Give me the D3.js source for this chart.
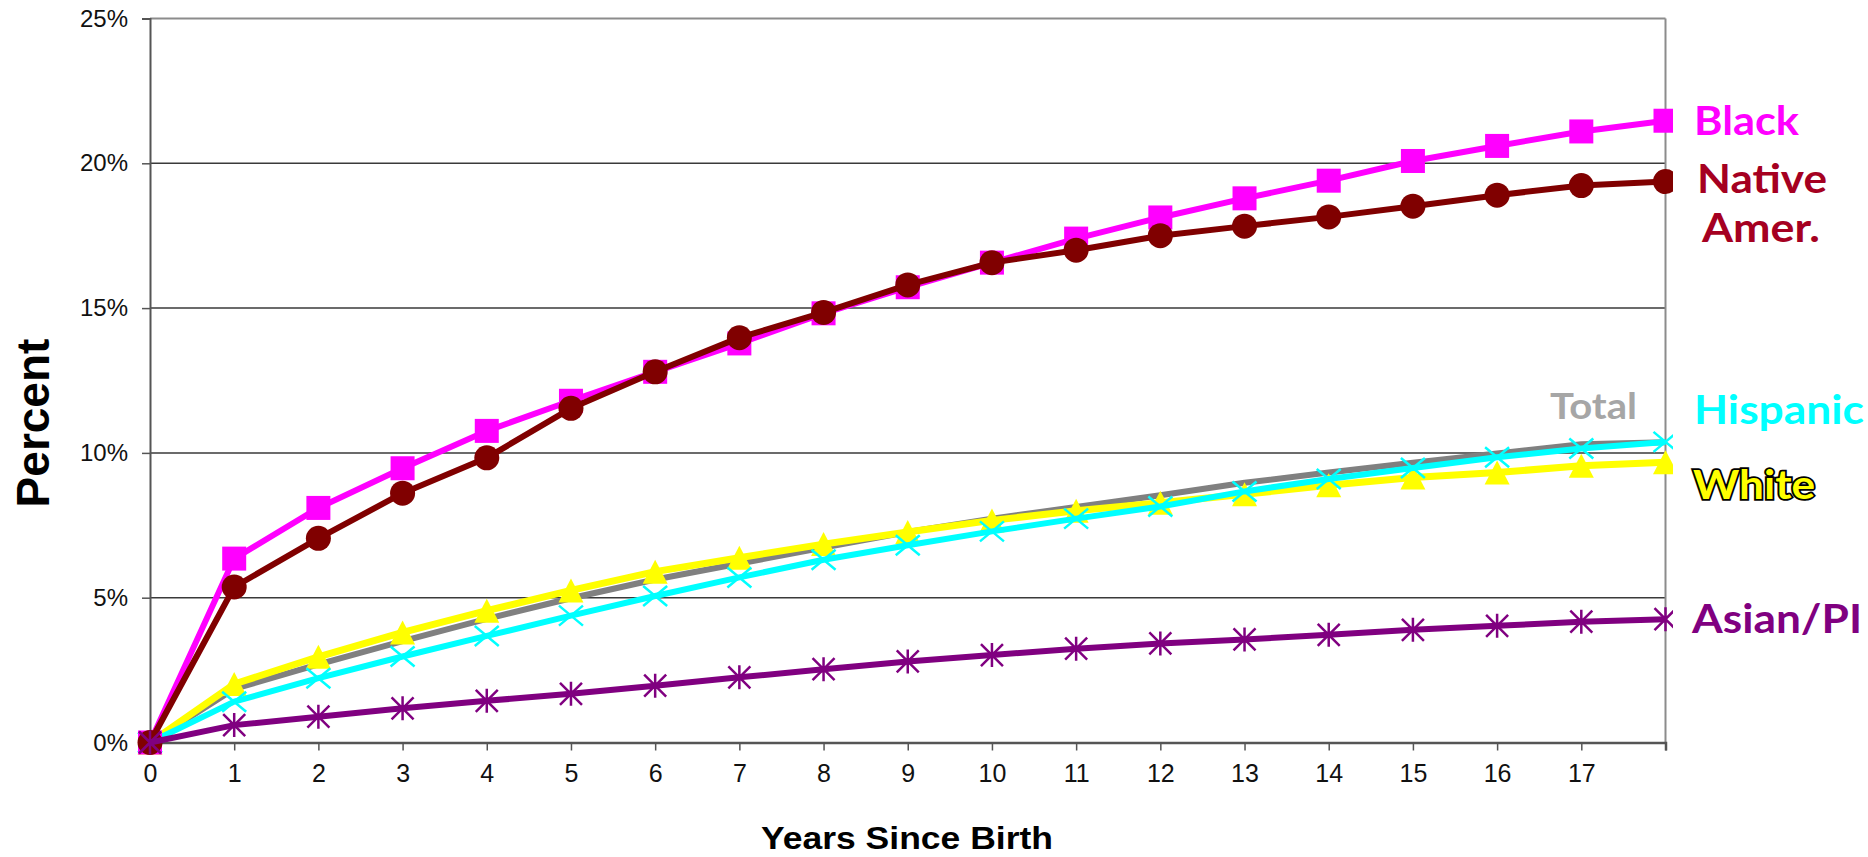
<!DOCTYPE html>
<html><head><meta charset="utf-8">
<script src="https://cdn.jsdelivr.net/npm/d3@7"></script>
<style>body{margin:0;background:#fff;overflow:hidden}</style>
</head><body>
<svg id="c" width="1868" height="857"></svg>
<script>
// ---- data ----
const years = [0,1,2,3,4,5,6,7,8,9,10,11,12,13,14,15,16,17,18];
const xTickLabels = ["0","1","2","3","4","5","6","7","8","9","10","11","12","13","14","15","16","17",""];
const yTicks = [0,5,10,15,20,25];
const yTickLabels = ["0%","5%","10%","15%","20%","25%"];
const seriesNames = ["Total","White","Hispanic","Black","Native Amer.","Asian/PI"];
const totalVals    = [0,1.85,2.70,3.50,4.27,4.98,5.63,6.18,6.73,7.27,7.73,8.13,8.54,8.97,9.32,9.66,9.98,10.30,10.37];
const whiteVals    = [0,2.02,2.96,3.80,4.55,5.25,5.90,6.38,6.85,7.27,7.67,8.00,8.28,8.57,8.88,9.15,9.32,9.56,9.68];
const hispanicVals = [0,1.41,2.22,2.97,3.68,4.38,5.06,5.70,6.31,6.81,7.29,7.73,8.15,8.67,9.10,9.48,9.85,10.15,10.38];
const blackVals    = [0,6.35,8.10,9.47,10.76,11.80,12.80,13.78,14.82,15.72,16.57,17.40,18.13,18.79,19.40,20.08,20.60,21.10,21.47];
const nativeVals   = [0,5.37,7.05,8.61,9.83,11.54,12.80,13.98,14.85,15.80,16.57,17.00,17.50,17.83,18.15,18.52,18.90,19.23,19.37];
const asianVals    = [0,0.60,0.89,1.18,1.44,1.68,1.96,2.25,2.53,2.80,3.02,3.24,3.42,3.56,3.72,3.89,4.03,4.17,4.26];

const svg = d3.select("#c");
const x = d3.scaleLinear().domain([0,18]).range([150,1665.5]);
const y = d3.scaleLinear().domain([0,25]).range([742.5,18.5]);

// gridlines
svg.append("g").selectAll("line").data([5,10,15,20]).join("line")
  .attr("x1", x(0)).attr("x2", x(18))
  .attr("y1", d=>y(d)).attr("y2", d=>y(d))
  .attr("stroke","#3a3a3a").attr("stroke-width",1.5);

// frame top/right
svg.append("line").attr("x1",x(0)).attr("x2",x(18)).attr("y1",y(25)).attr("y2",y(25))
  .attr("stroke","#8c8c8c").attr("stroke-width",2);
svg.append("line").attr("x1",x(18)).attr("x2",x(18)).attr("y1",y(25)).attr("y2",y(0))
  .attr("stroke","#8c8c8c").attr("stroke-width",2);

// axes
const yAxis = d3.axisLeft(y).tickValues(yTicks).tickSize(8).tickPadding(14)
  .tickFormat((d,i)=>yTickLabels[i]);
const gy = svg.append("g").attr("transform",`translate(${x(0)},0)`).call(yAxis);
gy.select(".domain").attr("stroke","#555").attr("stroke-width",2);
gy.selectAll(".tick line").attr("stroke","#555").attr("stroke-width",1.5);
gy.selectAll(".tick text").attr("font-family","'Liberation Sans', Arial, sans-serif")
  .attr("font-size",24).attr("fill","#111");

const xAxis = d3.axisBottom(x).tickValues(years).tickSize(8).tickPadding(13.5)
  .tickFormat((d,i)=>xTickLabels[i]);
const gx = svg.append("g").attr("transform",`translate(0,${y(0)})`).call(xAxis);
gx.select(".domain").attr("stroke","#555").attr("stroke-width",2.5);
gx.selectAll(".tick line").attr("stroke","#555").attr("stroke-width",1.5);
gx.selectAll(".tick text").attr("font-family","'Liberation Sans', Arial, sans-serif")
  .attr("font-size",25).attr("fill","#111");

// axis titles
svg.append("text").attr("transform","translate(48.5,423) rotate(-90)")
  .attr("text-anchor","middle").attr("font-family","'Liberation Sans', Arial, sans-serif")
  .attr("font-weight","bold").attr("font-size",46).attr("fill","#000").text("Percent");
svg.append("text").attr("x",761).attr("y",849)
  .attr("font-family","'Liberation Sans', Arial, sans-serif")
  .attr("font-weight","bold").attr("font-size",32).attr("fill","#000")
  .attr("textLength",292).attr("lengthAdjust","spacingAndGlyphs").text("Years Since Birth");

// clip
svg.append("clipPath").attr("id","clip").append("rect")
  .attr("x",0).attr("y",0).attr("width",1673).attr("height",857);
const plot = svg.append("g").attr("clip-path","url(#clip)");

const series = [
  {vals: totalVals,    color:"#808080", width:6,   marker:null},
  {vals: whiteVals,    color:"#ffff00", width:7,   marker:"triangle"},
  {vals: hispanicVals, color:"#00ffff", width:6,   marker:"x"},
  {vals: blackVals,    color:"#ff00ff", width:6,   marker:"square"},
  {vals: nativeVals,   color:"#800000", width:6,   marker:"circle"},
  {vals: asianVals,    color:"#800080", width:6,   marker:"star"}
];

const line = d3.line().x((d,i)=>x(years[i])).y(d=>y(d));

series.forEach(s=>{
  const g = plot.append("g");
  g.append("path").datum(s.vals).attr("d",line).attr("fill","none")
    .attr("stroke",s.color).attr("stroke-width",s.width).attr("stroke-linejoin","round");
  const pts = s.vals.map((v,i)=>[x(years[i]), y(v)]);
  if (s.marker==="square") {
    g.selectAll("rect").data(pts).join("rect")
      .attr("x",d=>d[0]-12).attr("y",d=>d[1]-12).attr("width",24).attr("height",24)
      .attr("fill",s.color);
  } else if (s.marker==="circle") {
    g.selectAll("circle").data(pts).join("circle")
      .attr("cx",d=>d[0]).attr("cy",d=>d[1]).attr("r",12.5).attr("fill",s.color);
  } else if (s.marker==="triangle") {
    g.selectAll("path.m").data(pts).join("path").attr("class","m")
      .attr("d",d=>`M${d[0]},${d[1]-12}L${d[0]+12.5},${d[1]+12}L${d[0]-12.5},${d[1]+12}Z`)
      .attr("fill",s.color);
  } else if (s.marker==="x") {
    g.selectAll("path.m").data(pts).join("path").attr("class","m")
      .attr("d",d=>`M${d[0]-12},${d[1]-10}L${d[0]+12},${d[1]+10}M${d[0]-12},${d[1]+10}L${d[0]+12},${d[1]-10}`)
      .attr("stroke",s.color).attr("stroke-width",2.5).attr("fill","none");
  } else if (s.marker==="star") {
    g.selectAll("path.m").data(pts).join("path").attr("class","m")
      .attr("d",d=>`M${d[0]-11},${d[1]-11}L${d[0]+11},${d[1]+11}M${d[0]-11},${d[1]+11}L${d[0]+11},${d[1]-11}M${d[0]},${d[1]-12}L${d[0]},${d[1]+12}`)
      .attr("stroke",s.color).attr("stroke-width",2.5).attr("fill","none");
  }
});

// direct labels
const labels = [
  {t:"Black",    x:1694, y:135,   len:105, size:40, fill:"#ff00ff"},
  {t:"Native",   x:1697, y:193.3, len:130, size:40, fill:"#a50021"},
  {t:"Amer.",    x:1702, y:241.7, len:118, size:40, fill:"#a50021"},
  {t:"Total",    x:1550, y:419,   len:87,  size:36, fill:"#a6a6a6"},
  {t:"Hispanic", x:1694, y:424,   len:170, size:40, fill:"#00ffff"},
  {t:"White",    x:1693, y:499.3, len:122, size:40, fill:"#ffff00", stroke:"#000"},
  {t:"Asian/PI", x:1692, y:633.3, len:170, size:40, fill:"#800080"}
];
svg.append("g").selectAll("text").data(labels).join("text")
  .attr("x",d=>d.x).attr("y",d=>d.y)
  .attr("font-family","Lato, 'Open Sans', sans-serif").attr("font-weight","bold")
  .attr("font-size",d=>d.size).attr("fill",d=>d.fill)
  .attr("textLength",d=>d.len).attr("lengthAdjust","spacingAndGlyphs")
  .attr("stroke",d=>d.stroke||"none").attr("stroke-width",d=>d.stroke?3.5:0)
  .attr("paint-order","stroke")
  .text(d=>d.t);
</script>
</body></html>
